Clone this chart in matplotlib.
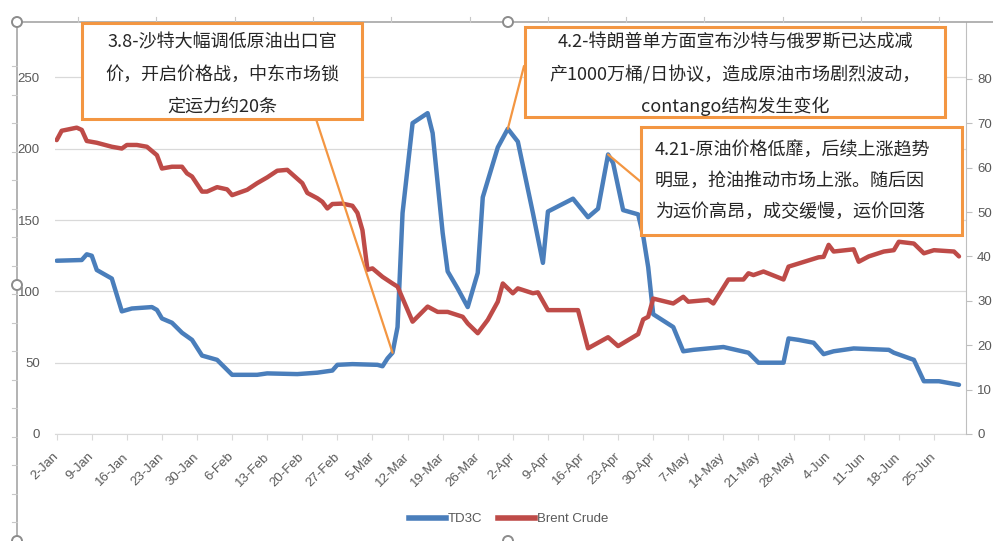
import matplotlib
matplotlib.use('Agg')
import matplotlib.pyplot as plt
import matplotlib.dates as mdates
import matplotlib.transforms as mtransforms
from matplotlib.patches import Rectangle, Circle, ConnectionPatch
from matplotlib.lines import Line2D
import numpy as np
import pandas as pd

# ---------------- data ----------------
td3c_dates = ['2020-01-02', '2020-01-07', '2020-01-08', '2020-01-09', '2020-01-10', '2020-01-13',
              '2020-01-15', '2020-01-17', '2020-01-21', '2020-01-22', '2020-01-23', '2020-01-25',
              '2020-01-27', '2020-01-29', '2020-01-31', '2020-02-01', '2020-02-03', '2020-02-05',
              '2020-02-06', '2020-02-11', '2020-02-13', '2020-02-19', '2020-02-23', '2020-02-26',
              '2020-02-27', '2020-03-01', '2020-03-06', '2020-03-07', '2020-03-08', '2020-03-09',
              '2020-03-10', '2020-03-11', '2020-03-13', '2020-03-16', '2020-03-17', '2020-03-19',
              '2020-03-20', '2020-03-22', '2020-03-24', '2020-03-26', '2020-03-27', '2020-03-30',
              '2020-04-01', '2020-04-03', '2020-04-06', '2020-04-08', '2020-04-09', '2020-04-14',
              '2020-04-17', '2020-04-19', '2020-04-21', '2020-04-22', '2020-04-24', '2020-04-27',
              '2020-04-28', '2020-04-29', '2020-04-30', '2020-05-04', '2020-05-06', '2020-05-08',
              '2020-05-14', '2020-05-19', '2020-05-21', '2020-05-26', '2020-05-27', '2020-05-29',
              '2020-06-01', '2020-06-03', '2020-06-05', '2020-06-09', '2020-06-16', '2020-06-17',
              '2020-06-21', '2020-06-23', '2020-06-26', '2020-06-30']
td3c_values = [121.5, 122, 126, 125, 115, 109,
               86, 88, 89, 87, 81, 78,
               71, 66, 55, 54, 52, 45,
               41.5, 41.5, 42.5, 42, 43, 44.5,
               48.5, 49, 48.5, 47.5, 53, 57,
               75, 155, 218, 225, 211, 141,
               114, 102, 89, 113, 166, 201,
               214, 205, 155, 120, 156, 165,
               152, 158, 196, 190, 157, 154,
               139, 117, 84, 75, 58, 59,
               61, 57, 50, 50, 67, 66,
               64, 56, 58, 60, 59, 57,
               52, 37, 37, 34.5]

brent_dates = ['2020-01-02', '2020-01-03', '2020-01-06', '2020-01-07', '2020-01-08', '2020-01-10',
               '2020-01-13', '2020-01-15', '2020-01-16', '2020-01-18', '2020-01-20', '2020-01-22',
               '2020-01-23', '2020-01-25', '2020-01-27', '2020-01-28', '2020-01-29', '2020-01-31',
               '2020-02-01', '2020-02-03', '2020-02-05', '2020-02-06', '2020-02-09', '2020-02-11',
               '2020-02-13', '2020-02-15', '2020-02-17', '2020-02-20', '2020-02-21', '2020-02-23',
               '2020-02-24', '2020-02-25', '2020-02-26', '2020-02-28', '2020-03-01', '2020-03-02',
               '2020-03-03', '2020-03-04', '2020-03-05', '2020-03-07', '2020-03-09', '2020-03-10',
               '2020-03-13', '2020-03-16', '2020-03-18', '2020-03-20', '2020-03-23', '2020-03-24',
               '2020-03-26', '2020-03-28', '2020-03-30', '2020-03-31', '2020-04-02', '2020-04-03',
               '2020-04-06', '2020-04-07', '2020-04-09', '2020-04-15', '2020-04-17', '2020-04-21',
               '2020-04-23', '2020-04-27', '2020-04-28', '2020-04-29', '2020-04-30', '2020-05-04',
               '2020-05-06', '2020-05-07', '2020-05-11', '2020-05-12', '2020-05-15', '2020-05-18',
               '2020-05-19', '2020-05-20', '2020-05-22', '2020-05-26', '2020-05-27', '2020-06-02',
               '2020-06-03', '2020-06-04', '2020-06-05', '2020-06-09', '2020-06-10', '2020-06-12',
               '2020-06-15', '2020-06-17', '2020-06-18', '2020-06-21', '2020-06-23', '2020-06-25',
               '2020-06-29', '2020-06-30']
brent_values = [66.2, 68.3, 69, 68.5, 66, 65.6,
                64.7, 64.3, 65.1, 65.1, 64.7, 62.8,
                59.8, 60.2, 60.2, 58.7, 58, 54.6,
                54.6, 55.6, 55.1, 53.8, 55, 56.5,
                57.8, 59.3, 59.5, 56.5, 54.3, 53.1,
                52.3, 50.8, 51.8, 51.9, 51.4, 49.8,
                45.9, 37, 37.3, 35.4, 33.9, 33.2,
                25.3, 28.7, 27.5, 27.5, 26.4, 24.9,
                22.7, 25.7, 29.8, 33.9, 31.7, 32.8,
                31.7, 31.9, 27.9, 27.9, 19.3, 21.8,
                19.8, 22.5, 25.8, 26.4, 30.5, 29.4,
                30.9, 29.8, 30.2, 29.4, 34.8, 34.8,
                36.2, 35.8, 36.6, 34.8, 37.7, 39.8,
                39.9, 42.6, 41.1, 41.6, 38.8, 40,
                41.1, 41.4, 43.3, 42.9, 40.7, 41.4,
                41.1, 40]

series_names = ['TD3C', 'Brent Crude']
left_ticks = [0, 50, 100, 150, 200, 250]
right_ticks = [0, 10, 20, 30, 40, 50, 60, 70, 80]
xtick_dates = list(pd.date_range('2020-01-02', '2020-06-25', freq='7D'))
xtick_labels = [f"{d.day}-{d.strftime('%b')}" for d in xtick_dates]

notes = [
    ['3.8-沙特大幅调低原油出口官', '价，开启价格战，中东市场锁', '定运力约20条'],
    ['4.2-特朗普单方面宣布沙特与俄罗斯已达成减', '产1000万桶/日协议，造成原油市场剧烈波动，', 'contango结构发生变化'],
    ['4.21-原油价格低靡，后续上涨趋势', '明显，抢油推动市场上涨。随后因', '为运价高昂，成交缓慢，运价回落'],
]
note_dates = ['2020-03-09', '2020-04-01', '2020-04-21']

# ---------------- style ----------------
BLUE = '#4A7EBB'
RED = '#BE4B48'
ORANGE = '#F39642'
GRID = '#D9D9D9'
TXT = '#595959'
plt.rcParams['font.family'] = ['Liberation Sans', 'DejaVu Sans']
CJK = ['Noto Sans CJK SC', 'DejaVu Sans']

W, H = 993, 541
fig = plt.figure(figsize=(W / 100, H / 100), dpi=100)
fig.patch.set_facecolor('white')


def fx(px):
    return px / W


def fy(py):
    return 1 - py / H


ax = fig.add_axes([fx(55), fy(434), fx(966) - fx(55), fy(22) - fy(434)])
ax2 = ax.twinx()

td3c_x = pd.to_datetime(td3c_dates)
brent_x = pd.to_datetime(brent_dates)

ax.plot(td3c_x, td3c_values, color=BLUE, lw=3.2, solid_joinstyle='round',
        solid_capstyle='round', zorder=3)
ax2.plot(brent_x, brent_values, color=RED, lw=3.2, solid_joinstyle='round',
         solid_capstyle='round', zorder=3)

start = pd.Timestamp('2020-01-02')
ax.set_xlim(start - pd.Timedelta(hours=8), start + pd.Timedelta(days=181.4))
ax.set_ylim(0, 288.9)
ax2.set_ylim(0, 92.8)

ax.set_yticks(left_ticks)
ax2.set_yticks(right_ticks)
ax.set_xticks(xtick_dates)
ax.set_xticklabels(xtick_labels, rotation=45, ha='right', rotation_mode='anchor', va='center')
shift = mtransforms.ScaledTranslation(2.5 / 72, 0, fig.dpi_scale_trans)
for lab in ax.get_xticklabels():
    lab.set_transform(lab.get_transform() + shift)

ax.grid(axis='y', color=GRID, lw=0.9)
ax.set_axisbelow(True)
for a in (ax, ax2):
    a.spines['top'].set_visible(False)
    a.spines['left'].set_visible(False)
ax.spines['right'].set_visible(False)
ax.spines['bottom'].set_color(GRID)
ax2.spines['bottom'].set_visible(False)
ax2.spines['right'].set_color('#BFBFBF')

ax.tick_params(axis='y', length=0, pad=11, labelsize=9.5, labelcolor=TXT)
ax.tick_params(axis='x', length=4, width=0.8, color=GRID, pad=11, labelsize=9.5, labelcolor=TXT)
ax2.tick_params(axis='y', length=4, width=0.8, color='#BFBFBF', pad=4, labelsize=9.5, labelcolor=TXT)

# legend
handles = [Line2D([], [], color=BLUE, lw=4), Line2D([], [], color=RED, lw=4)]
fig.legend(handles, series_names, loc='center', bbox_to_anchor=(fx(509), fy(519)), ncol=2,
           frameon=False, fontsize=9.5, handlelength=2.8, handletextpad=0.15,
           columnspacing=1.2, labelcolor=TXT)

# ---------------- overlay (selection frame + callouts) ----------------
ov = fig.add_axes([0, 0, 1, 1], zorder=10)
ov.set_xlim(0, W)
ov.set_ylim(H, 0)
ov.axis('off')
ov.patch.set_alpha(0)

FR = '#A6A6A6'
ov.plot([17, W], [22, 22], color=FR, lw=1.2)
ov.plot([17, 17], [22, H], color=FR, lw=1.2)
for x in np.arange(78, W, 78.3):
    ov.plot([x, x], [17, 22], color='#C8C8C8', lw=0.8)
for y in np.arange(66, H, 28.5):
    ov.plot([12, 17], [y, y], color='#C8C8C8', lw=0.8)
for cx, cy in [(17, 22), (508, 22), (17, 285), (17, 541), (508, 541)]:
    ov.add_patch(Circle((cx, cy), 5, facecolor='white', edgecolor='#8C8C8C', lw=1.4, zorder=20))

boxes = [(82, 23, 280, 96), (525, 27, 420, 90), (641, 127, 321, 108)]
text_pos = [('center', 222, [42, 75, 107]),
            ('center', 735, [42, 75, 106]),
            ('left', 655, [150, 181, 212])]
anchors = [(316, 119), (524, 66), (641, 182)]

series_lookup = dict(zip(td3c_dates, td3c_values))
for (bx, by, bw, bh), (ha, tx, tys), lines, (axp, ayp), nd in zip(boxes, text_pos, notes, anchors, note_dates):
    cp = ConnectionPatch(xyA=(axp, ayp), coordsA=ov.transData,
                         xyB=(mdates.date2num(pd.Timestamp(nd)), series_lookup[nd]),
                         coordsB=ax.transData, color=ORANGE, lw=1.6, zorder=5)
    ov.add_artist(cp)
    ov.add_patch(Rectangle((bx, by), bw, bh, facecolor='white', edgecolor=ORANGE, lw=2.2, zorder=8))
    for line, ty in zip(lines, tys):
        ov.text(tx, ty, line, ha=ha, va='center', fontsize=13, family=CJK, color='#262626', zorder=9)

fig.savefig('out.png', dpi=100, facecolor='white')
